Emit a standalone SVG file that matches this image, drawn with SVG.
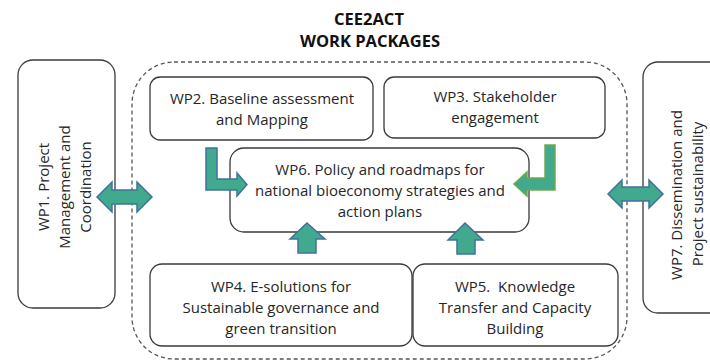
<svg xmlns="http://www.w3.org/2000/svg" width="710" height="361" viewBox="0 0 710 361">
<style>
.box{fill:#fff;stroke:#3a3a3a;stroke-width:1.3}
.t{font-family:"Open Sans","DejaVu Sans",sans-serif;font-size:15px;fill:#262626;text-anchor:middle}
.title{font-family:"Open Sans","DejaVu Sans",sans-serif;font-size:16.5px;font-weight:bold;fill:#111;text-anchor:middle}
.arr{fill:#40A98E;stroke:#41719C;stroke-width:1.5;stroke-linejoin:miter}
.arrg{fill:#40A98E;stroke:#6FAA4A;stroke-width:1.5}
.dash{fill:none;stroke:#555;stroke-width:1.3;stroke-dasharray:4 3}
</style>
<rect width="710" height="361" fill="#fff"/>
<g id="title">
<text class="title" x="369" y="25">CEE2ACT</text>
<text class="title" x="370" y="47">WORK PACKAGES</text>
</g>
<g id="group-frame"><rect class="dash" x="132" y="62" width="495" height="297" rx="42"/></g>
<g id="wp1">
<rect class="box" x="18" y="60" width="97" height="248" rx="15"/>
<text class="t" transform="translate(49,187) rotate(-90)">WP1. Project</text>
<text class="t" transform="translate(70,187) rotate(-90)">Management and</text>
<text class="t" transform="translate(91,187) rotate(-90)">Coordination</text>
</g>
<g id="wp7">
<rect class="box" x="643" y="62" width="90" height="251" rx="15"/>
<text class="t" transform="translate(682,195) rotate(-90)">WP7. Dissemination and</text>
<text class="t" transform="translate(703,194) rotate(-90)">Project sustainability</text>
</g>
<g id="wp2">
<rect class="box" x="150" y="77" width="223" height="63" rx="10"/>
<text class="t" x="262" y="104">WP2. Baseline assessment</text>
<text class="t" x="262" y="125">and Mapping</text>
</g>
<g id="wp3">
<rect class="box" x="384" y="77" width="221" height="61" rx="10"/>
<text class="t" x="495" y="102">WP3. Stakeholder</text>
<text class="t" x="495" y="123">engagement</text>
</g>
<g id="wp6">
<rect class="box" x="230" y="148" width="299" height="84" rx="14"/>
<text class="t" x="380" y="175">WP6. Policy and roadmaps for</text>
<text class="t" x="380" y="196">national bioeconomy strategies and</text>
<text class="t" x="380" y="217">action plans</text>
</g>
<g id="wp4">
<rect class="box" x="150" y="264" width="262" height="82" rx="12"/>
<text class="t" x="281" y="292">WP4. E-solutions for</text>
<text class="t" x="281" y="313">Sustainable governance and</text>
<text class="t" x="281" y="334">green transition</text>
</g>
<g id="wp5">
<rect class="box" x="413" y="264" width="205" height="82" rx="12"/>
<text class="t" x="515" y="292" xml:space="preserve">WP5.  Knowledge</text>
<text class="t" x="515" y="313">Transfer and Capacity</text>
<text class="t" x="515" y="334">Building</text>
</g>
<g id="connectors">
<polygon class="arr" points="97,197 112,182 112,190 137,190 137,182 152,197 137,212 137,204 112,204 112,212"/>
<polygon class="arr" points="608,194 622,180 622,187 649,187 649,180 663,194 649,208 649,201 622,201 622,208"/>
<polygon class="arr" points="206,148 217,148 217,179 237,179 237,173 247,184.5 237,196 237,190 206,190"/>
<polygon class="arrg" points="545,145 555,145 555,190 527,190 527,196 514,184 527,172 527,178 545,178"/>
<polygon class="arr" points="307,223 325,239 316,239 316,253 298,253 298,239 290,239"/>
<polygon class="arr" points="465,223 483,240 475,240 475,254 457,254 457,240 448,240"/>
</g>
</svg>
